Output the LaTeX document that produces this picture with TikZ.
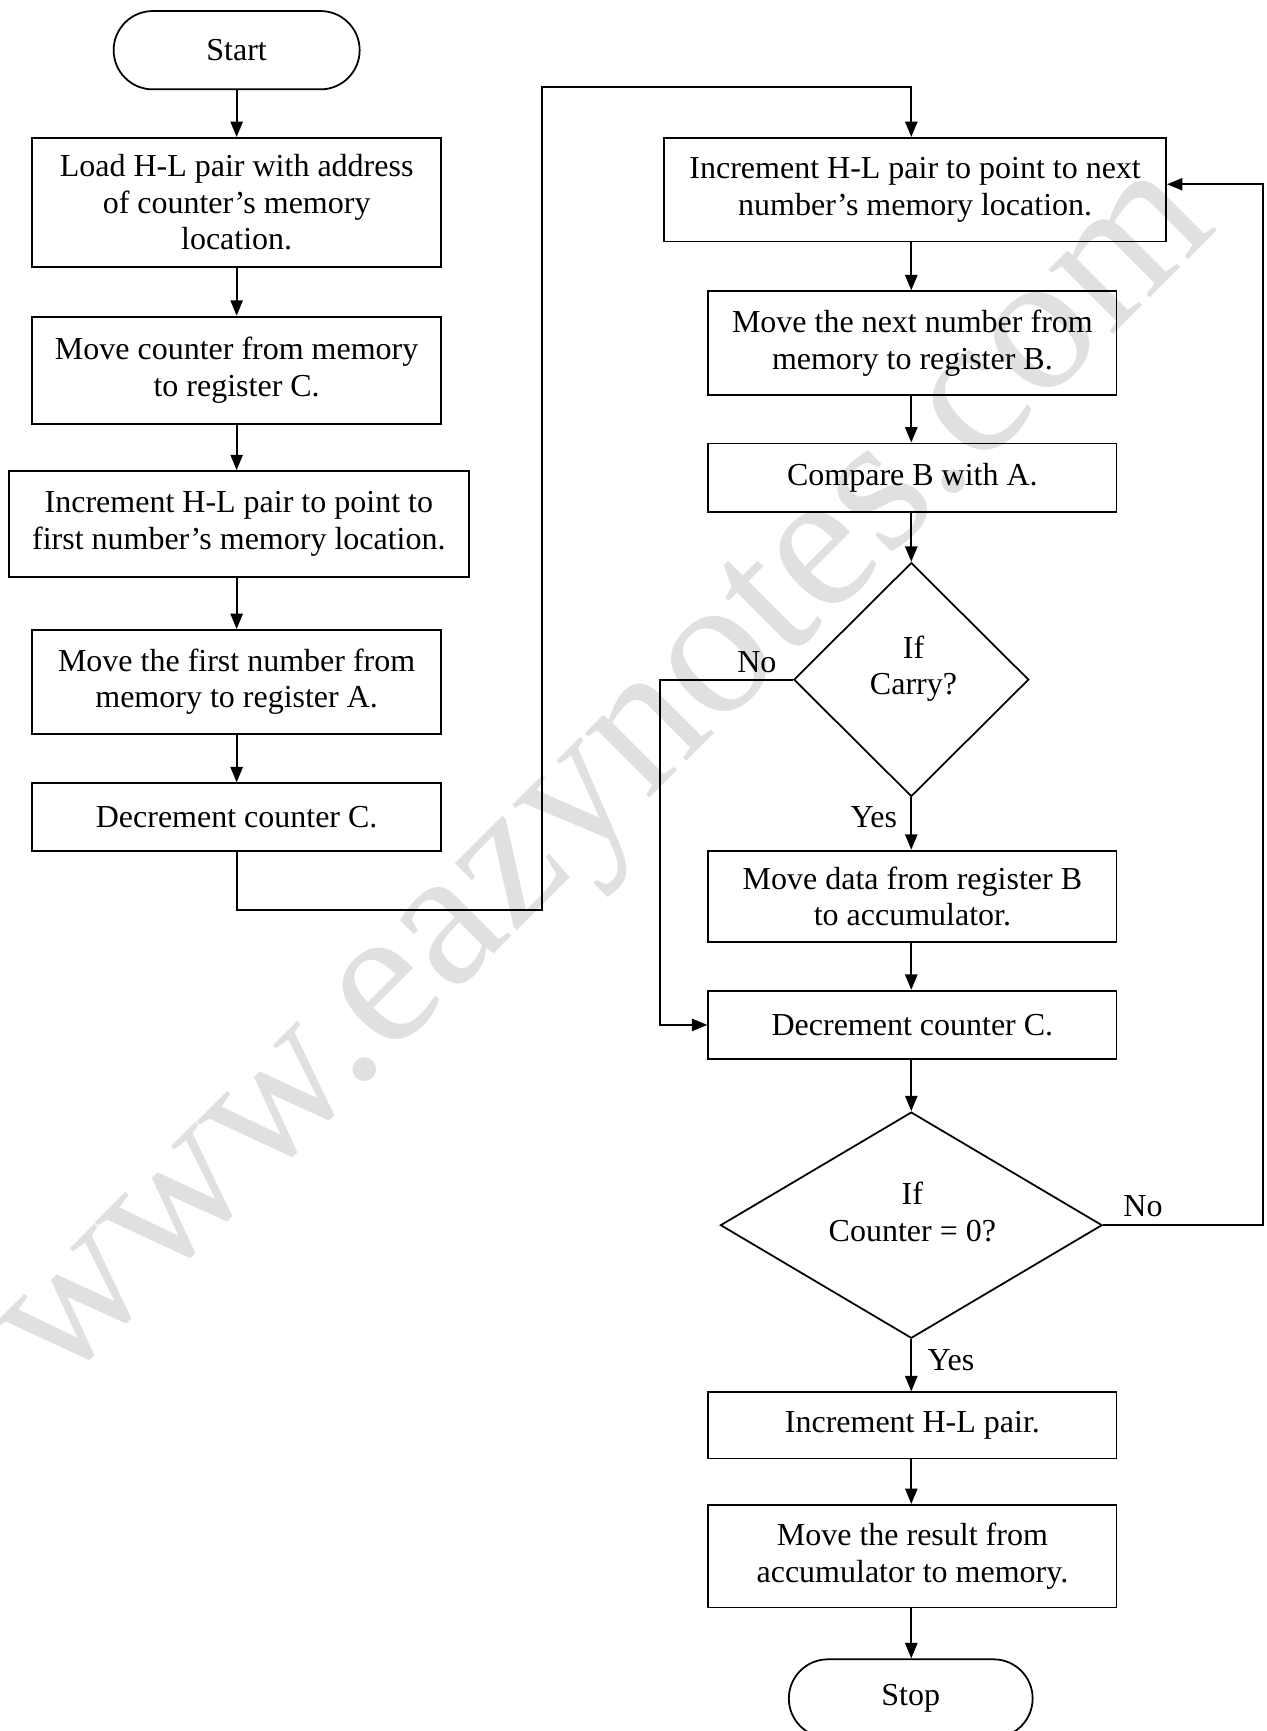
\documentclass[tikz,border=0pt]{standalone}
\usepackage{fontspec}
\setmainfont{Liberation Serif}
\usetikzlibrary{arrows.meta,shapes.misc,shapes.geometric}
\newcommand\myfs{\fontsize{14.5}{16.5}\selectfont}
\tikzset{
  box/.style={draw, line width=0.8pt, rectangle, align=center, inner sep=1pt, font=\myfs},
  term/.style={draw, line width=0.8pt, rounded rectangle, align=center, inner sep=1pt, font=\myfs},
  dec/.style={draw, line width=0.8pt, diamond, inner sep=0pt},
  txt/.style={align=center, inner sep=0pt, font=\myfs},
  arr/.style={line width=1pt, -{Triangle[length=7pt,width=5.5pt]}},
}
\begin{document}
\begin{tikzpicture}[x=0.5pt,y=-0.5pt]
\useasboundingbox (0,0) rectangle (1148,1569);
% watermark
\node[rotate=45, text=black!12, font=\fontsize{90}{90}\selectfont, inner sep=0pt] (wm) at (557,711) {www.eazynotes.com};

% left column
\node[term, minimum width=113.5pt, minimum height=35.5pt] (start) at (214.5,45.5) {Start};
\node[box, minimum width=185.5pt, minimum height=58.5pt] (load) at (214.5,183.5) {Load H-L pair with address\\of counter’s memory\\location.};
\node[box, minimum width=185.5pt, minimum height=48.5pt] (movc) at (214.5,335.5) {Move counter from memory\\to register C.};
\node[box, minimum width=208.5pt, minimum height=48pt] (incf) at (216.5,475) {Increment H-L pair to point to\\first number’s memory location.};
\node[box, minimum width=185.5pt, minimum height=47pt] (mova) at (214.5,618) {Move the first number from\\memory to register A.};
\node[box, minimum width=185.5pt, minimum height=30.5pt] (decl) at (214.5,740.5) {Decrement counter C.};

% right column
\coordinate (rc) at (826,0);
\node[box, minimum width=227.5pt, minimum height=47pt] (incn) at (829.5,172) {Increment H-L pair to point to next\\number’s memory location.};
\node[box, minimum width=185pt, minimum height=47pt] (movb) at (827,311) {Move the next number from\\memory to register B.};
\node[box, minimum width=185pt, minimum height=31pt] (cmp) at (827,433) {Compare B with A.};
\node[dec, minimum width=106.5pt, minimum height=106pt] (carry) at (826,616) {};
\node[txt] (carryt) at (828,606) {If\\Carry?};
\node[box, minimum width=185pt, minimum height=41.5pt] (movd) at (827,812.5) {Move data from register B\\to accumulator.};
\node[box, minimum width=185pt, minimum height=31pt] (decc) at (827,929) {Decrement counter C.};
\node[dec, minimum width=173pt, minimum height=102.5pt] (cnt) at (826,1110.5) {};
\node[txt] (cntt) at (827,1098.5) {If\\Counter = 0?};
\node[box, minimum width=185pt, minimum height=30pt] (inchl) at (827,1292) {Increment H-L pair.};
\node[box, minimum width=185pt, minimum height=46.5pt] (movr) at (827,1410.5) {Move the result from\\accumulator to memory.};
\node[term, minimum width=112.5pt, minimum height=35.5pt] (stop) at (825.5,1539.5) {Stop};

% labels
\node[txt] (no1) at (686,600) {No};
\node[txt] (yes1) at (792,741) {Yes};
\node[txt] (no2) at (1036,1093) {No};
\node[txt] (yes2) at (862,1233) {Yes};

% left arrows
\draw[arr] (start.south) -- (start.south |- load.north);
\draw[arr] (load.south) -- (load.south |- movc.north);
\draw[arr] (movc.south) -- (movc.south |- incf.north);
\draw[arr] (incf.south -| movc.south) -- (movc.south |- mova.north);
\draw[arr] (mova.south) -- (mova.south |- decl.north);

% jump to right column
\coordinate (j1) at (491,825);
\coordinate (j2) at (491,79);
\draw[arr] (decl.south) |- (j1) -- (j2) -| (incn.north -| rc);

% right arrows
\draw[arr] (incn.south -| rc) -- (movb.north -| rc);
\draw[arr] (movb.south -| rc) -- (cmp.north -| rc);
\draw[arr] (cmp.south -| rc) -- (carry.north);
\draw[arr] (carry.south) -- (movd.north -| rc);
\draw[arr] (movd.south -| rc) -- (decc.north -| rc);
\draw[arr] (decc.south -| rc) -- (cnt.north);
\draw[arr] (cnt.south) -- (inchl.north -| rc);
\draw[arr] (inchl.south -| rc) -- (movr.north -| rc);
\draw[arr] (movr.south -| rc) -- (stop.north -| rc);

% No branches
\coordinate (nx) at (598,0);
\draw[arr] (carry.west) -- (carry.west -| nx) |- (decc.west);
\coordinate (ex) at (1145,0);
\coordinate (ey) at (0,167);
\draw[arr] (cnt.east) -- (cnt.east -| ex) |- (incn.east |- ey);
\end{tikzpicture}
\end{document}
